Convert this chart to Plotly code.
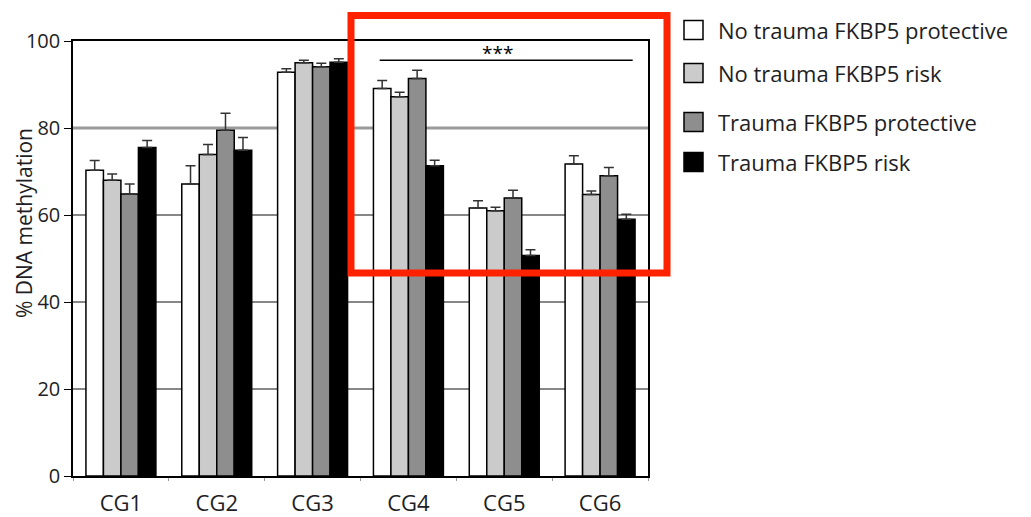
import plotly.graph_objects as go

categories = ["CG1", "CG2", "CG3", "CG4", "CG5", "CG6"]
series_names = ["No trauma FKBP5 protective", "No trauma FKBP5 risk",
                "Trauma FKBP5 protective", "Trauma FKBP5 risk"]
no_trauma_protective = [70.3, 67.1, 92.8, 89.1, 61.6, 71.7]
no_trauma_risk = [68.0, 73.9, 95.0, 87.2, 61.0, 64.7]
trauma_protective = [64.8, 79.5, 94.1, 91.4, 63.9, 69.0]
trauma_risk = [75.5, 74.9, 95.1, 71.3, 50.7, 59.0]
err_no_trauma_protective = [2.2, 4.2, 0.8, 1.8, 1.7, 1.9]
err_no_trauma_risk = [1.4, 2.3, 0.6, 1.0, 0.8, 0.8]
err_trauma_protective = [2.3, 3.9, 0.8, 1.9, 1.8, 1.9]
err_trauma_risk = [1.6, 2.9, 0.8, 1.3, 1.3, 1.2]
y_ticks = [0, 20, 40, 60, 80, 100]
y_title = "% DNA methylation"
sig_level = 95.6
sig_label = "***"

values = [no_trauma_protective, no_trauma_risk, trauma_protective, trauma_risk]
errors = [err_no_trauma_protective, err_no_trauma_risk, err_trauma_protective, err_trauma_risk]
colors = ["#ffffff", "#cbcbcb", "#8e8e8e", "#000000"]

FONT = "Open Sans"
TXT = "#1e1e24"
OFF = 8  # default page body margin
W, H = 1031 - OFF, 517 - OFF
# plot area in page pixels
L, R, T, B = 73, 648, 41, 476
PW, PH = R - L, B - T


def px(x):
    return (x - L) / PW


def py(y):
    return (B - y) / PH


fig = go.Figure()
for name, vals, errs, col in zip(series_names, values, errors, colors):
    fig.add_trace(go.Bar(
        x=categories, y=vals, name=name, marker=dict(color=col, line=dict(color="#000", width=1.5)),
        error_y=dict(type="data", symmetric=False, array=errs, arrayminus=[0] * len(errs),
                     color="#333", thickness=1.5, width=5),
        showlegend=False,
    ))

shapes = []
# grid lines (80 drawn thicker and grey)
for t in y_ticks[1:-1]:
    if t == 80:
        ln = dict(color="#9a9a9a", width=3)
    else:
        ln = dict(color="#111", width=1.2)
    shapes.append(dict(type="line", xref="paper", yref="y", x0=0, x1=1, y0=t, y1=t,
                       line=ln, layer="below"))
# significance line
shapes.append(dict(type="line", xref="x", yref="y", x0=2.7, x1=5.34, y0=sig_level, y1=sig_level,
                   line=dict(color="#000", width=1.5)))
# red highlight box
shapes.append(dict(type="rect", xref="paper", yref="paper", x0=px(351), x1=px(667), y0=py(273), y1=py(15.5),
                   line=dict(color="#ff2200", width=7), fillcolor="rgba(0,0,0,0)"))

annotations = [dict(x=4 - 0.07, y=sig_level, xref="x", yref="y", text=sig_label, showarrow=False,
                    yanchor="middle", yshift=7, font=dict(size=19, color="#000", family=FONT)),
               dict(x=px(24), y=py(223), xref="paper", yref="paper", text=y_title, textangle=-90,
                    showarrow=False, xanchor="center", yanchor="middle",
                    font=dict(size=21, color=TXT, family=FONT))]

# manual legend
legend_y = [30, 73, 122, 162]
for name, col, ly in zip(series_names, colors, legend_y):
    shapes.append(dict(type="rect", xref="paper", yref="paper",
                       x0=px(684), x1=px(703), y0=py(ly + 9.5), y1=py(ly - 9.5),
                       line=dict(color="#000", width=1.5), fillcolor=col))
    annotations.append(dict(x=px(716), y=py(ly), xref="paper", yref="paper",
                            text=name, showarrow=False, xanchor="left", yanchor="middle",
                            font=dict(size=22, color=TXT, family=FONT)))

fig.update_layout(
    width=W, height=H,
    margin=dict(l=L - OFF, r=1031 - R, t=T - OFF, b=517 - B),
    paper_bgcolor="white", plot_bgcolor="white",
    barmode="group", bargap=0.27, bargroupgap=0,
    shapes=shapes, annotations=annotations,
    font=dict(family=FONT, size=20, color=TXT),
    xaxis=dict(showline=True, linecolor="#000", linewidth=1.5, mirror=True, automargin=False,
               ticks="outside", tickson="boundaries", ticklen=3, tickcolor="#999",
               ticklabelstandoff=7,
               tickfont=dict(size=22, family=FONT, color=TXT), showgrid=False),
    yaxis=dict(range=[0, 100], tickvals=y_ticks, showline=True, linecolor="#000", linewidth=1.5,
               mirror=True, ticks="outside", ticklen=7, tickcolor="#000", automargin=False,
               showgrid=False, zeroline=False,
               tickfont=dict(size=20, family=FONT, color=TXT)),
)

fig.write_html("out.html")
